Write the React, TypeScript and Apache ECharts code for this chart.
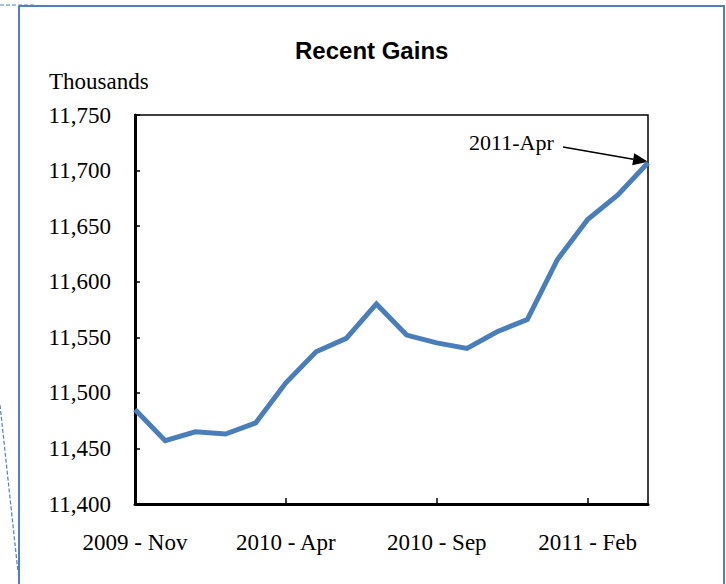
import React, { useEffect, useRef } from "react";
import * as echarts from "echarts";

const categories = [
  "2009 - Nov", "2009 - Dec", "2010 - Jan", "2010 - Feb", "2010 - Mar", "2010 - Apr",
  "2010 - May", "2010 - Jun", "2010 - Jul", "2010 - Aug", "2010 - Sep", "2010 - Oct",
  "2010 - Nov", "2010 - Dec", "2011 - Jan", "2011 - Feb", "2011 - Mar", "2011 - Apr",
];
const values = [
  11485, 11457, 11465, 11463, 11473, 11509, 11537, 11549, 11580,
  11552, 11545, 11540, 11555, 11566, 11620, 11656, 11678, 11707,
];
const titleText = "Recent Gains";
const unitText = "Thousands";
const annotationText = "2011-Apr";

const serif = "'Liberation Serif', 'Times New Roman', serif";
const frameBlue = "#4F81BD";

export default function App() {
  const ref = useRef<HTMLDivElement>(null);
  useEffect(() => {
    if (!ref.current) return;
    document.body.style.margin = "0";
    const chart = echarts.init(ref.current, undefined, { renderer: "svg" });
    const option: any = {
      animation: false,
      backgroundColor: "#ffffff",
      title: {
        text: titleText,
        left: 295,
        top: 38,
        padding: 0,
        textStyle: {
          fontFamily: "'Liberation Sans', Arial, sans-serif",
          fontWeight: "bold",
          fontSize: 24,
          color: "#000",
        },
      },
      grid: {
        left: 135,
        right: 78,
        top: 115,
        bottom: 80,
        show: true,
        borderColor: "#000",
        borderWidth: 1.5,
        containLabel: false,
      },
      xAxis: {
        type: "category",
        data: categories,
        boundaryGap: false,
        axisLine: { show: true, lineStyle: { color: "#000", width: 3 } },
        axisTick: { show: true, inside: true, length: 6, interval: 4, lineStyle: { color: "#000", width: 1.5 } },
        axisLabel: {
          interval: 4,
          margin: 27,
          fontFamily: serif,
          fontSize: 23,
          color: "#000",
        },
        splitLine: { show: false },
      },
      yAxis: {
        type: "value",
        min: 11400,
        max: 11750,
        interval: 50,
        axisLine: { show: true, lineStyle: { color: "#000", width: 3 } },
        axisTick: { show: true, inside: true, length: 5, lineStyle: { color: "#000", width: 1.5 } },
        axisLabel: {
          margin: 24,
          fontFamily: serif,
          fontSize: 23,
          color: "#000",
          formatter: (v: number) => v.toLocaleString("en-US"),
        },
        splitLine: { show: false },
      },
      series: [
        {
          type: "line",
          data: values,
          showSymbol: false,
          symbol: "none",
          lineStyle: { color: "#4A7EBB", width: 5, join: "miter" },
        },
      ],
    };
    chart.setOption(option);

    const tip = chart.convertToPixel({ seriesIndex: 0 }, [categories.length - 1, values[values.length - 1]]) as number[];
    const tx = tip[0];
    const ty = tip[1] - 1;
    const sx = 563;
    const sy = 147;
    const dx = tx - sx;
    const dy = ty - sy;
    const len = Math.sqrt(dx * dx + dy * dy);
    const ux = dx / len;
    const uy = dy / len;
    const headLen = 15;
    const headHalf = 6;
    const bx = tx - ux * headLen;
    const by = ty - uy * headLen;
    const px = -uy * headHalf;
    const py = ux * headHalf;

    chart.setOption({
      graphic: [
        // outer frame
        { type: "line", shape: { x1: 19, y1: 6, x2: 725, y2: 6 }, style: { stroke: frameBlue, lineWidth: 2 } },
        { type: "line", shape: { x1: 19, y1: 6, x2: 19, y2: 584 }, style: { stroke: frameBlue, lineWidth: 2 } },
        { type: "line", shape: { x1: 724, y1: 6, x2: 724, y2: 584 }, style: { stroke: frameBlue, lineWidth: 2 } },
        { type: "line", shape: { x1: 0, y1: 5, x2: 35, y2: 5 }, style: { stroke: frameBlue, lineWidth: 1.2, lineDash: [4, 2] } },
        { type: "line", shape: { x1: 0, y1: 405, x2: 18, y2: 572 }, style: { stroke: frameBlue, lineWidth: 1.2, lineDash: [4, 2] } },
        // unit label
        {
          type: "text",
          left: 49,
          top: 70,
          style: { text: unitText, fontFamily: serif, fontSize: 23, fill: "#000" },
        },
        // annotation
        {
          type: "text",
          x: 469,
          y: 142,
          style: { text: annotationText, fontFamily: serif, fontSize: 22, fill: "#000", textVerticalAlign: "middle", verticalAlign: "middle" },
        },
        { type: "line", shape: { x1: sx, y1: sy, x2: bx, y2: by }, style: { stroke: "#000", lineWidth: 1.5 } },
        {
          type: "polygon",
          shape: { points: [[tx, ty], [bx + px, by + py], [bx - px, by - py]] },
          style: { fill: "#000" },
        },
      ],
    });
    return () => chart.dispose();
  }, []);
  return (
    <div
      ref={ref}
      style={{ position: "fixed", left: 0, top: 0, width: 726, height: 584 }}
    />
  );
}
